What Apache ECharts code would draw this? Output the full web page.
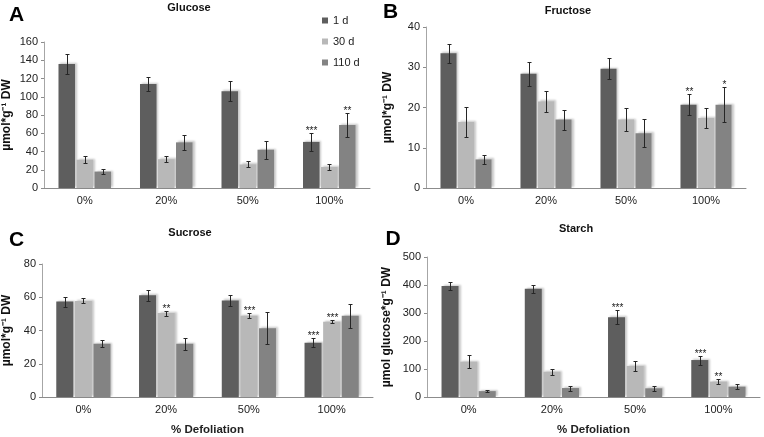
<!DOCTYPE html>
<html>
<head>
<meta charset="utf-8">
<title>Sugars and starch after defoliation</title>
<script src="https://cdn.jsdelivr.net/npm/echarts@6/dist/echarts.min.js"></script>
<style>
  html, body { margin: 0; padding: 0; background: #fff; }
  #chart { width: 764px; height: 437px; }
</style>
</head>
<body>
<div id="chart"></div>
<script>
const categories = ["0%", "20%", "50%", "100%"];
const seriesNames = ["1 d", "30 d", "110 d"];
const seriesColors = ["#5e5e5e", "#b8b8b8", "#838383"];

// rows: 1 d, 30 d, 110 d ; columns: 0%, 20%, 50%, 100%
const glucoseMeans = [
  [136, 114, 106, 50.5],
  [31, 31.5, 25.8, 23],
  [18, 50, 42, 69]
];
const glucoseErrors = [
  [11, 7.5, 11, 10],
  [4, 3.3, 3.3, 3.3],
  [3, 8, 10, 13.5]
];
const glucoseStars = [
  ["", "", "", "***"],
  ["", "", "", ""],
  ["", "", "", "**"]
];

const fructoseMeans = [
  [33.5, 28.4, 29.6, 20.7],
  [16.4, 21.5, 17, 17.4],
  [7.1, 17, 13.6, 20.7]
];
const fructoseErrors = [
  [2.4, 3, 2.6, 2.6],
  [3.7, 2.5, 2.9, 2.5],
  [1.2, 2.5, 3.5, 4.4]
];
const fructoseStars = [
  ["", "", "", "**"],
  ["", "", "", ""],
  ["", "", "", "*"]
];

const sucroseMeans = [
  [57.4, 61.2, 58.1, 32.6],
  [57.8, 50.5, 48.8, 45.3],
  [32, 32, 41.4, 48.8]
];
const sucroseErrors = [
  [3, 3.3, 3.5, 2.7],
  [1.5, 1.5, 1.5, 1],
  [2, 3.5, 9.5, 7]
];
const sucroseStars = [
  ["", "", "", "***"],
  ["", "**", "***", "***"],
  ["", "", "", ""]
];

const starchMeans = [
  [396, 387, 285, 132],
  [126, 90, 111, 55],
  [21, 32, 31, 37]
];
const starchErrors = [
  [14, 14, 24, 16],
  [23, 11, 18, 9],
  [4.5, 9, 10, 8.5]
];
const starchStars = [
  ["", "", "***", "***"],
  ["", "", "", "**"],
  ["", "", "", ""]
];

const panels = [
  { title: "Glucose", letter: "A", means: glucoseMeans, errors: glucoseErrors, stars: glucoseStars,
    max: 160, interval: 20, yName: "µmol*g⁻¹ DW", xName: "" },
  { title: "Fructose", letter: "B", means: fructoseMeans, errors: fructoseErrors, stars: fructoseStars,
    max: 40, interval: 10, yName: "µmol*g⁻¹ DW", xName: "" },
  { title: "Sucrose", letter: "C", means: sucroseMeans, errors: sucroseErrors, stars: sucroseStars,
    max: 80, interval: 20, yName: "µmol*g⁻¹ DW", xName: "% Defoliation" },
  { title: "Starch", letter: "D", means: starchMeans, errors: starchErrors, stars: starchStars,
    max: 500, interval: 100, yName: "µmol glucose*g⁻¹ DW", xName: "% Defoliation" }
];

// layout of each panel (pixels)
const layouts = [
  { left: 44, right: 394, top: 42, bottom: 249, bw: 16.5, step: 18, nameGap: 31, title: [189, 8], letter: [16.5, 15] },
  { left: 426, right: 18, top: 27, bottom: 249, bw: 16, step: 17.5, nameGap: 32, title: [568, 11], letter: [390.5, 12] },
  { left: 42, right: 391, top: 264, bottom: 36, bw: 17, step: 18.6, nameGap: 29, title: [190, 233], letter: [16.5, 240] },
  { left: 427, right: 4, top: 257, bottom: 35, bw: 17, step: 18.6, nameGap: 34, title: [576, 229], letter: [393, 239] }
];

const fontFamily = "'Liberation Sans', Arial, sans-serif";

function errorBarRenderer(stars, offset) {
  return function (params, api) {
    const cat = api.value(0);
    const lo = api.coord([cat, api.value(1)]);
    const hi = api.coord([cat, api.value(2)]);
    const x = Math.round(lo[0] + offset) + 0.5;
    const yTop = Math.round(hi[1]) + 0.5;
    const yBot = Math.round(lo[1]) + 0.5;
    const cap = 2;
    const lineStyle = { stroke: "#262626", lineWidth: 1 };
    const children = [
      { type: "line", shape: { x1: x, y1: yTop, x2: x, y2: yBot }, style: lineStyle },
      { type: "line", shape: { x1: x - cap, y1: yTop, x2: x + cap, y2: yTop }, style: lineStyle },
      { type: "line", shape: { x1: x - cap, y1: yBot, x2: x + cap, y2: yBot }, style: lineStyle }
    ];
    const star = stars[params.dataIndex];
    if (star) {
      children.push({
        type: "text",
        style: {
          text: star, x: x, y: yTop - 2, align: "center", verticalAlign: "middle",
          fontSize: 10, fontFamily: fontFamily, fill: "#222"
        }
      });
    }
    return { type: "group", children: children };
  };
}

const grids = [];
const xAxes = [];
const yAxes = [];
const series = [];
const graphics = [];

panels.forEach((panel, p) => {
  const lay = layouts[p];
  grids.push({ left: lay.left, right: lay.right, top: lay.top, bottom: lay.bottom });
  xAxes.push({
    type: "category",
    gridIndex: p,
    data: categories,
    name: panel.xName,
    nameLocation: "middle",
    nameGap: 27,
    nameTextStyle: { fontSize: 11.5, fontWeight: "bold", color: "#222" },
    axisLine: { lineStyle: { color: "#8c8c8c", width: 1 } },
    axisTick: { show: false },
    axisLabel: { fontSize: 11, color: "#222", margin: 7 }
  });
  yAxes.push({
    type: "value",
    gridIndex: p,
    min: 0,
    max: panel.max,
    interval: panel.interval,
    name: panel.yName,
    nameLocation: "middle",
    nameGap: lay.nameGap,
    nameTextStyle: { fontSize: 12, fontWeight: "bold", color: "#111" },
    axisLine: { show: true, lineStyle: { color: "#a6a6a6", width: 1 } },
    axisTick: { show: true, length: 3, lineStyle: { color: "#8c8c8c" } },
    axisLabel: { fontSize: 11, color: "#222", margin: 6 },
    splitLine: { show: false }
  });

  seriesNames.forEach((name, k) => {
    series.push({
      type: "bar",
      name: name,
      xAxisIndex: p,
      yAxisIndex: p,
      data: panel.means[k],
      barWidth: lay.bw,
      barGap: ((lay.step - lay.bw) / lay.bw * 100).toFixed(1) + "%",
      itemStyle: {
        color: seriesColors[k],
        shadowColor: "rgba(0,0,0,0.22)",
        shadowBlur: 2,
        shadowOffsetX: 2,
        shadowOffsetY: -1
      },
      emphasis: { disabled: true },
      z: 2
    });
  });

  seriesNames.forEach((name, k) => {
    const errData = panel.means[k].map((m, i) => [i, m - panel.errors[k][i], m + panel.errors[k][i]]);
    series.push({
      type: "custom",
      name: name + " error",
      xAxisIndex: p,
      yAxisIndex: p,
      data: errData,
      encode: { x: 0, y: [1, 2] },
      renderItem: errorBarRenderer(panel.stars[k], (k - 1) * lay.step),
      silent: true,
      z: 5
    });
  });

  graphics.push({
    type: "text",
    x: lay.title[0],
    y: lay.title[1],
    style: {
      text: panel.title, align: "center", verticalAlign: "middle",
      fontSize: 11, fontWeight: "bold", fontFamily: fontFamily, fill: "#111"
    }
  });
  graphics.push({
    type: "text",
    x: lay.letter[0],
    y: lay.letter[1],
    style: {
      text: panel.letter, align: "center", verticalAlign: "middle",
      fontSize: 21, fontWeight: "bold", fontFamily: fontFamily, fill: "#000"
    }
  });
});

const chart = echarts.init(document.getElementById("chart"), null, { renderer: "canvas" });
chart.setOption({
  animation: false,
  backgroundColor: "#fff",
  textStyle: { fontFamily: fontFamily },
  legend: {
    data: seriesNames,
    orient: "vertical",
    left: 322,
    top: 15,
    padding: 0,
    itemWidth: 6,
    itemHeight: 6,
    itemGap: 10,
    icon: "rect",
    selectedMode: false,
    textStyle: { fontSize: 11, color: "#222" }
  },
  grid: grids,
  xAxis: xAxes,
  yAxis: yAxes,
  series: series,
  graphic: graphics
});
</script>
</body>
</html>
